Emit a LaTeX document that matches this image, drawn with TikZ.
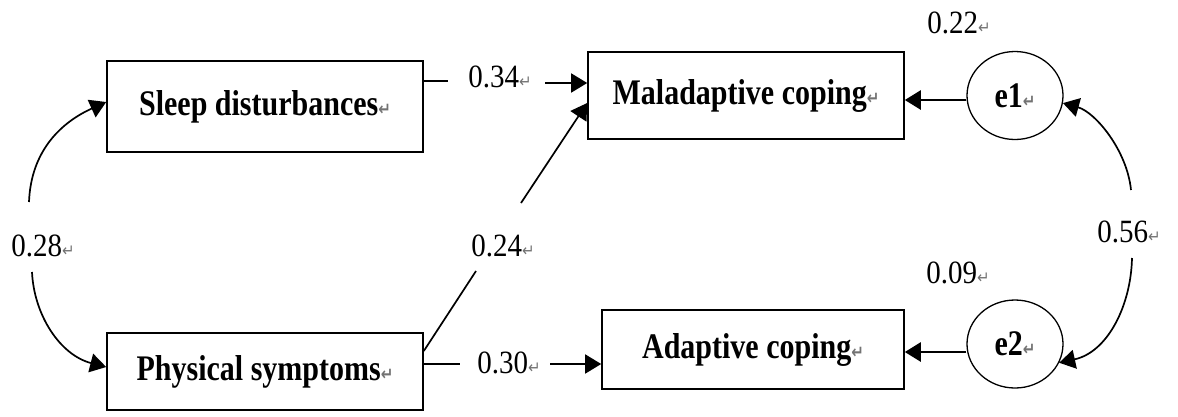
\documentclass[tikz,border=0pt]{standalone}
\usepackage{fontspec}
\setmainfont{Liberation Serif}
\newfontfamily\dejavu{DejaVu Sans}
\usepackage{graphicx}
\usetikzlibrary{arrows.meta,shapes.geometric}
\newcommand\retmark{{\dejavu\fontsize{15}{15}\selectfont\color{black!55}↵}}
\newcommand\numtxt[1]{\scalebox{1}[1.12]{\fontsize{29}{30}\selectfont #1\retmark}}
\newcommand\boxtxt[1]{\scalebox{1}[1.2]{\fontsize{30}{32}\selectfont\bfseries #1\retmark}}
\tikzset{
  varbox/.style={draw, line width=1.6pt, inner sep=0pt},
  errnode/.style={draw, ellipse, line width=1.3pt, inner sep=0pt, minimum width=96pt, minimum height=88pt},
  numlbl/.style={inner sep=0pt},
  conn/.style={line width=1.7pt},
  arr/.style={conn, -{Triangle[length=16pt,width=19pt]}},
  errarr/.style={line width=2.6pt, -{Triangle[length=16pt,width=19pt]}},
}
\begin{document}
\begin{tikzpicture}[x=1pt,y=1pt]
\useasboundingbox (0,0) rectangle (1178,-416);
% variables
\node[varbox, minimum width=316pt, minimum height=91pt] (S) at (265,-106.5) {\boxtxt{Sleep disturbances}};
\node[varbox, minimum width=316pt, minimum height=77pt] (P) at (265,-371.5) {\boxtxt{Physical symptoms}};
\node[varbox, minimum width=316pt, minimum height=87pt] (M) at (746,-95.5) {\boxtxt{Maladaptive coping}};
\node[varbox, minimum width=302pt, minimum height=79pt] (A) at (753,-349.5) {\boxtxt{Adaptive coping}};
\node[errnode] (e1) at (1015,-95.5) {\boxtxt{e1}};
\node[errnode] (e2) at (1015,-344) {\boxtxt{e2}};
% coefficients
\node[numlbl] (l22) at (959,-23) {\numtxt{0.22}};
\node[numlbl] (l09) at (958,-273) {\numtxt{0.09}};
\node[numlbl] (l56) at (1129,-232) {\numtxt{0.56}};
\node[numlbl] (l28) at (43,-246) {\numtxt{0.28}};
\node[numlbl] (l24) at (503,-246) {\numtxt{0.24}};
\node[numlbl] (l34) at (500,-77) {\numtxt{0.34}};
\node[numlbl] (l30) at (509,-363) {\numtxt{0.30}};
% gap ends
\coordinate (g34a) at (448,-81);
\coordinate (g34b) at (545,-83);
\coordinate (g30a) at (460,-364);
\coordinate (g30b) at (550,-364);
\coordinate (g24a) at (476,-271);
\coordinate (g24b) at (521,-203);
\coordinate (g28a) at (29,-202);
\coordinate (g28b) at (32,-272);
\coordinate (g56a) at (1131,-190);
\coordinate (g56b) at (1132,-258);
% connectors
\draw[conn] (S.east |- 0,-81) -- (g34a);
\draw[arr] (g34b) -- (M.west |- 0,-83);
\draw[conn] (P.east |- 0,-364) -- (g30a);
\draw[arr] (g30b) -- (A.west |- 0,-364);
\draw[conn] (P.east |- 0,-351) -- (g24a);
\draw[arr] (g24b) -- (M.west |- 0,-103);
\draw[arr] (g28a) .. controls (31,-150) and (62,-122) .. (S.west |- 0,-102);
\draw[arr] (g28b) .. controls (34,-315) and (60,-355) .. (P.west |- 0,-367);
\draw[arr] (g56a) .. controls (1127,-150) and (1095,-112) .. (e1.-9);
\draw[arr] (g56b) .. controls (1131,-305) and (1108,-352) .. (e2.-23);
\draw[errarr] (e1.west |- 0,-100) -- (M.east |- 0,-100);
\draw[errarr] (e2.west |- 0,-352) -- (A.east |- 0,-352);
\end{tikzpicture}
\end{document}
